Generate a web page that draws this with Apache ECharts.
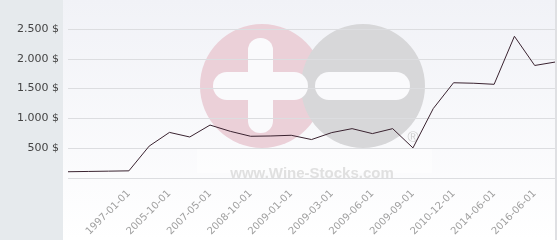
<!DOCTYPE html>
<html>
<head>
<meta charset="utf-8">
<script src="https://cdn.jsdelivr.net/npm/echarts@6/dist/echarts.min.js"></script>
<style>html,body{margin:0;padding:0;background:#fff}#c{width:560px;height:240px}</style>
</head>
<body>
<div id="c"></div>
<script>
const categories = ['1990-01-01','1995-01-01','1996-01-01','1997-01-01','2004-01-01','2005-10-01','2006-10-01','2007-05-01','2008-01-01','2008-10-01','2008-12-01','2009-01-01','2009-02-01','2009-03-01','2009-05-01','2009-06-01','2009-08-01','2009-09-01','2010-06-01','2010-12-01','2012-01-01','2014-06-01','2015-06-01','2016-06-01','2017-06-01'];
const prices = [105,110,115,120,535,765,688,888,783,700,705,717,645,762,828,745,828,505,1165,1598,1590,1572,2378,1888,1945];
const yTickValues = [0,500,1000,1500,2000,2500];
const yTickLabels = ['','500 $','1.000 $','1.500 $','2.000 $','2.500 $'];

const chart = echarts.init(document.getElementById('c'), null, {renderer:'canvas'});
chart.setOption({
  animation:false,
  backgroundColor:'#ffffff',
  textStyle:{fontFamily:'DejaVu Sans'},
  graphic:[
    {type:'rect', z:-30, silent:true, shape:{x:63,y:0,width:494,height:240},
     style:{fill:new echarts.graphic.LinearGradient(0,0,0,1,[{offset:0,color:'#f1f2f7'},{offset:1,color:'#ffffff'}])}},
    {type:'rect', z:-29, silent:true, shape:{x:0,y:0,width:63,height:240}, style:{fill:'#e6eaed'}},
    {type:'rect', z:-29, silent:true, shape:{x:555,y:0,width:2,height:240}, style:{fill:'#dfe0e3'}},
    {type:'rect', z:-28, silent:true, shape:{x:197,y:148,width:235,height:25}, style:{fill:'rgba(255,255,255,0.45)'}},
    {type:'circle', z:-27, silent:true, shape:{cx:262,cy:86,r:62}, style:{fill:'#ebd0d8'}},
    {type:'circle', z:-26, silent:true, shape:{cx:363,cy:86,r:62}, style:{fill:'#d7d7d9'}},
    {type:'rect', z:-25, silent:true, shape:{x:248,y:38,width:25,height:95,r:12}, style:{fill:'#fafafc'}},
    {type:'rect', z:-25, silent:true, shape:{x:213,y:72,width:95,height:28,r:14}, style:{fill:'#fafafc'}},
    {type:'rect', z:-25, silent:true, shape:{x:315,y:72,width:95,height:28,r:14}, style:{fill:'#fafafc'}},
    {type:'text', z:-25, silent:true, x:312, y:166, style:{text:'www.Wine-Stocks.com', fill:'#e0e0e0', font:'bold 15px "Liberation Sans"', align:'center', verticalAlign:'alphabetic'}},
    {type:'text', z:-25, silent:true, x:413, y:138, style:{text:'®', fill:'#d0d0d0', font:'15px "Liberation Sans"', align:'center', verticalAlign:'middle'}}
  ],
  grid:{left:68, right:5, top:29, bottom:62},
  xAxis:{
    type:'category', data:categories, boundaryGap:false,
    axisLine:{show:false}, axisTick:{show:false},
    axisLabel:{rotate:45, fontSize:10, color:'#a0a0a0', margin:14, fontFamily:'DejaVu Sans',
      interval:function(i){return i%2===1 && i>=3;}},
    splitLine:{show:false}
  },
  yAxis:{
    type:'value', min:0, max:2500, interval:500,
    axisLine:{show:false}, axisTick:{show:false},
    axisLabel:{fontSize:11, color:'#444', margin:9, fontFamily:'DejaVu Sans',
      formatter:function(v){const k=yTickValues.indexOf(v);return k>=0?yTickLabels[k]:'';}},
    splitLine:{lineStyle:{color:'#dcdde0', width:1}}
  },
  series:[{
    type:'line', data:prices, showSymbol:false, symbol:'none', z:5,
    lineStyle:{color:'#3a2330', width:1}
  }]
});
</script>
</body>
</html>
